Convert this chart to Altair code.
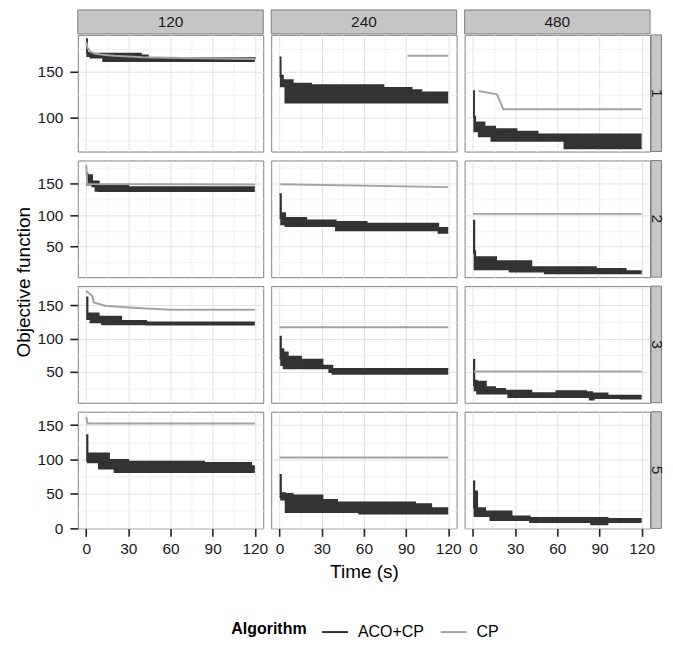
import altair as alt
import pandas as pd

COLS = ["120", "240", "480"]
ROWS = ["1", "2", "3", "5"]
X_DOMAIN = [-6, 126]
Y_DOMAIN = {"1": [62.5, 190.5], "2": [2, 186], "3": [3.7, 178.4], "5": [-0.5, 169.5]}
ALGS = ["ACO+CP", "CP"]

# ACO+CP: step envelope of all runs (time s, highest value, lowest value)
ACO = {
    ("1", "120"): dict(t=[0, 0.7, 3, 12, 39, 44, 120],
                       hi=[186, 171, 170, 170, 168, 165, 164],
                       lo=[172, 167, 165.5, 161.5, 161.5, 161.5, 161.5]),
    ("1", "240"): dict(t=[0, 0.8, 2.4, 4, 9.4, 22.4, 74, 94, 101, 120],
                       hi=[166, 146, 141, 141, 137, 135.5, 132.5, 130, 127.5, 127.5],
                       lo=[145, 134, 134, 116, 116, 116, 116, 116, 116, 116]),
    ("1", "480"): dict(t=[0, 0.8, 1.6, 4, 8.2, 13, 15.8, 31, 46, 65, 120],
                       hi=[129, 101, 94.5, 94.5, 90, 90, 87.3, 84.4, 81.4, 81.4, 81.4],
                       lo=[100, 84.4, 84.4, 79, 79, 74.2, 74.2, 74.2, 74.2, 66, 66]),
    ("2", "120"): dict(t=[0, 1, 4.2, 6.5, 9, 30, 120],
                       hi=[166, 163, 153, 153, 147, 144, 144],
                       lo=[148, 148, 145, 138, 137.5, 137.5, 137.5]),
    ("2", "240"): dict(t=[0, 1, 4, 19, 40, 62, 113, 120],
                       hi=[133, 103, 95.5, 91.8, 89.2, 86.6, 79.7, 79.7],
                       lo=[95, 85, 82.4, 82.4, 75.6, 75.6, 71.9, 71.9]),
    ("2", "480"): dict(t=[0, 1, 1.6, 16.5, 26, 41.6, 51, 87.5, 108.7, 120],
                       hi=[91.3, 43, 33.6, 27.4, 27.4, 18, 18, 15.3, 11.6, 11.6],
                       lo=[40, 14.3, 14.3, 14.3, 10.5, 10.5, 8, 8, 8, 8]),
    ("3", "120"): dict(t=[0, 1, 3, 8.9, 11.2, 25, 42.8, 120],
                       hi=[161.5, 137.6, 137.6, 133, 133, 126.6, 124.1, 124.1],
                       lo=[129, 129, 124.1, 124.1, 121, 121, 120.5, 120.5]),
    ("3", "240"): dict(t=[0, 1, 2.8, 5.9, 15.3, 30.6, 35.3, 37.6, 120],
                       hi=[102.7, 84.3, 79.4, 72.9, 68.4, 59.4, 59.4, 54.5, 54.5],
                       lo=[70, 60, 55, 55, 55, 55, 49.5, 47, 47]),
    ("3", "480"): dict(t=[0, 1, 2.8, 9.2, 15.8, 22.8, 25, 41.6, 59.3, 80.5, 83, 85, 86, 95.8, 105, 120],
                       hi=[67.9, 37, 35.6, 27.1, 24.6, 22.1, 22.1, 18.2, 21.2, 19.7, 19.7, 16.1, 18, 14.6, 14.6, 14.6],
                       lo=[30, 22.1, 17.2, 17.2, 17.2, 17.2, 12.2, 12.2, 12.2, 12.2, 8.2, 8.2, 10.7, 10.7, 9.7, 9.7]),
    ("5", "120"): dict(t=[0, 1, 9, 16.3, 20, 30, 84, 117.5, 120],
                       hi=[135.5, 109, 109, 99.5, 99.5, 97, 95, 90.5, 90.5],
                       lo=[98, 95.5, 86.5, 86.5, 81.5, 81.5, 81.5, 81.5, 81.5]),
    ("5", "240"): dict(t=[0, 1, 4.2, 9.4, 30.6, 41, 56.5, 96.5, 108, 120],
                       hi=[77.5, 51, 50, 47.7, 41.3, 37.5, 37.5, 35, 29.3, 29.3],
                       lo=[45, 41.3, 23, 23, 23, 23, 21, 21, 21, 21]),
    ("5", "480"): dict(t=[0, 1, 3, 8.7, 12.2, 27.5, 40.5, 84, 95.8, 120],
                       hi=[68, 53.5, 29.3, 24.5, 24.5, 17.2, 14.8, 14.8, 13.3, 13.3],
                       lo=[30, 17.2, 17.2, 17.2, 11.4, 11.4, 8.5, 5.1, 8.5, 8.5]),
}

# CP: objective over time (no CP solution shown for row 5 / 480)
CP = {
    ("1", "120"): dict(t=[0, 1, 3, 6, 10, 20, 40, 70, 120], v=[183, 176, 172, 170, 169, 167.5, 166, 165, 164]),
    ("1", "240"): dict(t=[91, 120], v=[167.5, 167.5]),
    ("1", "480"): dict(t=[4, 17, 21.6, 120], v=[129, 125.2, 108.8, 108.8]),
    ("2", "120"): dict(t=[0, 0.7, 120], v=[179, 149, 148]),
    ("2", "240"): dict(t=[0.5, 120], v=[148.5, 144]),
    ("2", "480"): dict(t=[0, 120], v=[101.8, 101.8]),
    ("3", "120"): dict(t=[0, 4.2, 5.4, 13.6, 30, 60, 120], v=[171, 164, 154, 149, 146.5, 143, 143]),
    ("3", "240"): dict(t=[0, 120], v=[116.7, 116.7]),
    ("3", "480"): dict(t=[0.5, 120], v=[50.5, 50.5]),
    ("5", "120"): dict(t=[0, 1, 120], v=[162, 152.5, 152.5]),
    ("5", "240"): dict(t=[0, 120], v=[102.7, 102.7]),
}

W, H = 186, 117
DARK = "#333333"
GRAY = "#a3a3a3"
STRIP = "#c6c6c6"
BORDER = "#7f7f7f"
TXT = "#1a1a1a"
FONT = "Liberation Sans"

color_enc = alt.Color("alg:N", scale=alt.Scale(domain=ALGS, range=[DARK, GRAY]),
                      legend=alt.Legend(title="Algorithm"))


def x_axis(ri, ci):
    show = ri == len(ROWS) - 1
    kw = dict(values=list(range(0, 121, 15)), grid=True, domain=False,
              gridColor={"condition": {"test": "datum.value % 30 === 0", "value": "#e2e2e2"}, "value": "#f2f2f2"},
              gridWidth=1, labelOverlap=False, labelFlush=False)
    if show:
        kw.update(ticks=True, tickSize=8, tickWidth=1.6, tickColor="#222222",
                  tickOpacity={"condition": {"test": "datum.value % 30 === 0", "value": 1}, "value": 0},
                  labels=True, labelExpr="datum.value % 30 === 0 ? datum.label : ''",
                  labelFontSize=15.5, labelColor=TXT, labelPadding=5, labelFont=FONT)
    else:
        kw.update(ticks=False, labels=False)
    if show and ci == 1:
        kw.update(title="Time (s)", titleFontSize=19, titleFontWeight="normal", titleColor="#000000",
                  titlePadding=6, titleFont=FONT)
    else:
        kw["title"] = None
    return alt.Axis(**kw)


def y_axis(ri, ci):
    lo, hi = Y_DOMAIN[ROWS[ri]]
    vals = [v for v in range(0, 200, 25) if lo <= v <= hi]
    show = ci == 0
    kw = dict(values=vals, grid=True, domain=False,
              gridColor={"condition": {"test": "datum.value % 50 === 0", "value": "#e2e2e2"}, "value": "#f2f2f2"},
              gridWidth=1, labelOverlap=False, labelFlush=False)
    if show:
        kw.update(ticks=True, tickSize=8, tickWidth=1.6, tickColor="#222222",
                  tickOpacity={"condition": {"test": "datum.value % 50 === 0", "value": 1}, "value": 0},
                  labels=True, labelExpr="datum.value % 50 === 0 ? datum.label : ''",
                  labelFontSize=15.5, labelColor=TXT, labelPadding=7, labelFont=FONT)
    else:
        kw.update(ticks=False, labels=False)
    if show and ri == 1:
        kw.update(title="Objective function", titleFontSize=19, titleFontWeight="normal", titleColor="#000000",
                  titlePadding=4, titleY=H + 4.5, titleFont=FONT)
    else:
        kw["title"] = None
    return alt.Axis(**kw)


def panel(ri, ci):
    r, c = ROWS[ri], COLS[ci]
    xs = alt.X("t:Q", scale=alt.Scale(domain=X_DOMAIN, nice=False, zero=False), axis=x_axis(ri, ci))
    ys = alt.Y("v:Q", scale=alt.Scale(domain=Y_DOMAIN[r], nice=False, zero=False), axis=y_axis(ri, ci))
    a = ACO[(r, c)]
    band = pd.DataFrame({"t": a["t"], "v": a["hi"], "lo": a["lo"]})
    edges = pd.concat([
        pd.DataFrame({"t": a["t"], "v": a["hi"], "edge": "hi"}),
        pd.DataFrame({"t": a["t"], "v": a["lo"], "edge": "lo"}),
    ], ignore_index=True)
    edges["alg"] = "ACO+CP"
    layers = [
        alt.Chart(band).mark_area(interpolate="step-after", color=DARK, opacity=1).encode(
            x=xs, y=ys, y2="lo:Q"),
        alt.Chart(edges).mark_line(interpolate="step-after", strokeWidth=1.6).encode(
            x=xs, y=ys, detail="edge:N", color=color_enc),
    ]
    if (r, c) in CP:
        cp = pd.DataFrame({"t": CP[(r, c)]["t"], "v": CP[(r, c)]["v"]})
        cp["alg"] = "CP"
        layers.append(alt.Chart(cp).mark_line(strokeWidth=2).encode(x=xs, y=ys, color=color_enc))
    if ri == 0:
        lab = pd.DataFrame({"lab": [c]})
        layers.append(alt.Chart(lab).mark_rect(fill=STRIP, stroke=BORDER, strokeWidth=1).encode(
            x=alt.value(0), x2=alt.value(W), y=alt.value(-25), y2=alt.value(-1)))
        layers.append(alt.Chart(lab).mark_text(fontSize=15.5, color=TXT, font=FONT, baseline="middle",
                                               align="center").encode(
            x=alt.value(W / 2), y=alt.value(-12.5), text="lab:N"))
    if ci == len(COLS) - 1:
        lab = pd.DataFrame({"lab": [r]})
        layers.append(alt.Chart(lab).mark_rect(fill=STRIP, stroke=BORDER, strokeWidth=1).encode(
            x=alt.value(W + 1), x2=alt.value(W + 11.5), y=alt.value(0), y2=alt.value(H)))
        layers.append(alt.Chart(lab).mark_text(fontSize=15.5, color=TXT, font=FONT, baseline="middle",
                                               align="center", angle=90).encode(
            x=alt.value(W + 7), y=alt.value(H / 2), text="lab:N"))
    return alt.layer(*layers).properties(width=W, height=H)


panels = [panel(ri, ci) for ri in range(len(ROWS)) for ci in range(len(COLS))]

chart = alt.concat(*panels, columns=3, spacing={"row": 9, "column": 8}, bounds="flush").resolve_scale(
    x="independent", y="independent", color="shared"
).properties(
    padding={"left": 5, "top": 0, "right": 0, "bottom": 0}
).configure(font=FONT).configure_view(
    stroke=BORDER, strokeWidth=1
).configure_legend(
    orient="none", legendX=154, legendY=585, direction="horizontal", titleOrient="left",
    titleFontSize=16, titleFontWeight="bold", titleColor="#000000", titleFont=FONT,
    labelFontSize=16, labelColor="#000000", labelFont=FONT,
    symbolType="stroke", symbolSize=676, symbolStrokeWidth=2, labelOffset=9,
    columnPadding=12, titlePadding=14
)

chart.save("out.html", embed_options={"renderer": "svg", "actions": False})
